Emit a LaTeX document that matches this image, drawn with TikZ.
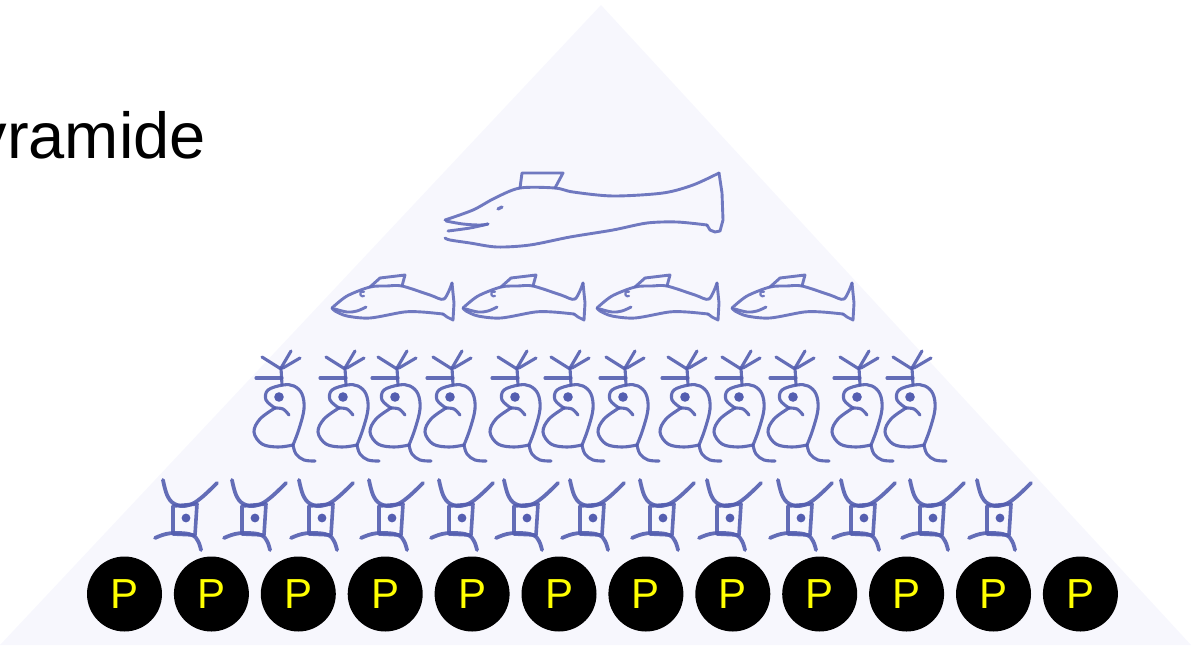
\documentclass[tikz,border=0pt]{standalone}
\usepackage{fontspec}
\setmainfont{Liberation Sans}
\begin{document}
\definecolor{pyrfill}{RGB}{247,247,253}
\definecolor{ink}{RGB}{84,94,176}
\definecolor{fishink}{RGB}{98,108,186}
\definecolor{pyel}{RGB}{255,255,0}
\tikzset{
  sketch/.style={draw=ink, line width=3.1pt, line cap=round, line join=round, opacity=0.9},
  fishline/.style={draw=fishink, line width=2.9pt, line cap=round, line join=round, opacity=0.9},
  pcircle/.style={circle, fill=black, minimum size=75pt, inner sep=0pt,
    text=pyel, font=\fontsize{42}{42}\selectfont},
  % phytoplankton cell: square body with four curved arms
  cellpic/.pic={
    \draw[sketch, line width=3.8pt] plot[smooth, tension=0.7] coordinates
      {(-23,-38) (-18,-21) (-9,-13) (3,-13) (15,-20) (31,-35)};
    \draw[sketch, line width=3.6pt] (-13,-12) -- (11,-14) -- (9,17) -- (-13,16) -- cycle;
    \draw[sketch, line width=3.8pt] plot[smooth, tension=0.7] coordinates
      {(-31,20) (-20,16) (-7,15) (6,17) (12,23) (15,32)};
    \fill[ink] (0,0) circle (4.4);
  },
  % zooplankton with antennae, eye and curled tail
  zoopic/.pic={
    \draw[sketch] (3,-12) -- (2,-29);
    \draw[sketch] (2,-28) -- (-17,-40);
    \draw[sketch] (2,-29) -- (12,-46);
    \draw[sketch] (4,-29) -- (21,-39);
    \draw[sketch] (-23,-19) -- (3,-19);
    \draw[sketch] plot[smooth, tension=0.6] coordinates
      {(-4,11) (-13,3) (-11,-7) (4,-12) (15,-11) (23,-3) (25,12) (20,32) (14,48)};
    \draw[sketch] plot[smooth, tension=0.6] coordinates
      {(-4,11) (-19,22) (-25,35) (-17,47) (-1,50) (14,48)};
    \draw[sketch] plot[smooth, tension=0.6] coordinates
      {(-4,11) (4,12) (10,18)};
    \draw[sketch] plot[smooth, tension=0.6] coordinates
      {(14,48) (17,57) (25,63) (36,64)};
    \fill[ink] (0,0) circle (4.8);
  },
  % small fish, snout at the origin
  fishpic/.pic={
    \draw[fishline] plot[smooth, tension=0.5] coordinates
      {(0,0) (15,-12) (38,-21) (55,-22) (70,-22) (98,-13) (112,-9) (120,-25)};
    \draw[fishline] (120,-25) -- (122,-5) -- (121,12) -- (115,9) -- (111,6);
    \draw[fishline] plot[smooth, tension=0.5] coordinates
      {(111,6) (90,4) (72,4) (38,10) (15,8) (3,3) (0,0)};
    \draw[fishline] (38,-21) -- (48,-30) -- (73,-33) -- (70,-22);
    \draw[fishline] plot[smooth, tension=0.6] coordinates {(3,1) (15,4) (25,3) (34,-1)};
    \draw[fishline, line width=2.2pt] (32,-12) arc (60:300:2.5);
  },
}
\begin{tikzpicture}[x=1pt, y=-1pt]
  \useasboundingbox (0,0) rectangle (1193,645);
  \clip (0,0) rectangle (1193,645);

  % pyramid
  \fill[pyrfill] (601,5) -- (1191,645) -- (0,645) -- cycle;

  % title
  \node[anchor=base east, inner sep=0pt, font=\fontsize{65}{65}\selectfont] (title) at (206,158) {Pyramide};

  % big fish at the top
  \draw[fishline] plot[smooth, tension=0.5] coordinates
    {(445,220) (473,210) (495,198) (520,188) (555,188) (573,192) (613,196) (663,193) (693,185) (719,173)};
  \draw[fishline] (719,173) -- (722,193) -- (723,220) -- (720,231) -- (715,232) -- (710,230) -- (707,225);
  \draw[fishline] plot[smooth, tension=0.5] coordinates
    {(707,225) (677,222) (647,223) (613,230) (570,237) (530,245) (497,247) (470,243) (450,240) (445,238)};
  \draw[fishline] (520,188) -- (522,173) -- (563,173) -- (555,188);
  \draw[fishline] plot[smooth, tension=0.6] coordinates {(446,221) (463,224) (480,225) (488,224)};
  \draw[fishline] plot[smooth, tension=0.6] coordinates {(448,231) (470,228) (488,224)};
  \draw[fishline, line width=3.2pt] (498,209) -- (502,207);

  % small fish
  \foreach \x [count=\i] in {332,463,597,732}
    \pic (fish\i) at (\x,308) {fishpic};

  % zooplankton
  \foreach \x [count=\i] in {279,343,395,450,515,568,623,685,739,793,857,910}
    \pic (zoo\i) at (\x,397) {zoopic};

  % phytoplankton
  \foreach \x [count=\i] in {186,255,322,392,462,527,593,663,730,801,864,933,1000}
    \pic (cell\i) at (\x,518) {cellpic};

  % producers
  \foreach \i in {1,...,12}
    \node[pcircle] (p\i) at ({124.5+86.9*(\i-1)},594) {P};
\end{tikzpicture}
\end{document}
